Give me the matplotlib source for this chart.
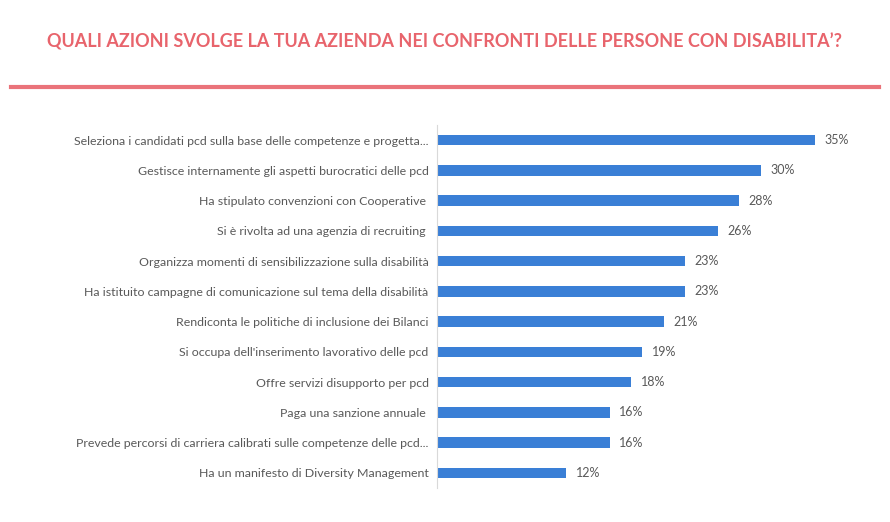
import matplotlib
matplotlib.use("Agg")
import matplotlib.pyplot as plt
from matplotlib.lines import Line2D

# Data (top to bottom)
labels = [
    "Seleziona i candidati pcd sulla base delle competenze e progetta...",
    "Gestisce internamente gli aspetti burocratici delle pcd",
    "Ha stipulato convenzioni con Cooperative ",
    "Si è rivolta ad una agenzia di recruiting ",
    "Organizza momenti di sensibilizzazione sulla disabilità",
    "Ha istituito campagne di comunicazione sul tema della disabilità",
    "Rendiconta le politiche di inclusione dei Bilanci",
    "Si occupa dell'inserimento lavorativo delle pcd",
    "Offre servizi disupporto per pcd",
    "Paga una sanzione annuale ",
    "Prevede percorsi di carriera calibrati sulle competenze delle pcd...",
    "Ha un manifesto di Diversity Management",
]
values = [35, 30, 28, 26, 23, 23, 21, 19, 18, 16, 16, 12]

title = "QUALI AZIONI SVOLGE LA TUA AZIENDA NEI CONFRONTI DELLE PERSONE CON DISABILITA\u2019?"

bar_color = "#3a7fd6"
text_gray = "#595959"
red = "#e8646c"

fig = plt.figure(figsize=(8.9, 5.22), dpi=100)
ax = fig.add_axes([0.491, 0.065, 0.485, 0.6955])

pos = list(range(len(labels)))
ax.barh(pos, values, height=0.35, color=bar_color)
ax.set_ylim(len(labels) - 0.5, -0.5)
ax.set_xlim(0, 40)

ax.set_yticks(pos)
ax.set_yticklabels(labels, family="Lato", fontsize=8.9, color=text_gray)
ax.tick_params(axis="y", length=0, pad=6)
ax.set_xticks([])

for p, v in zip(pos, values):
    ax.text(v + 0.9, p, f"{v}%", va="center", ha="left",
            family="Lato", fontsize=9, color=text_gray)

for side in ["top", "right", "bottom"]:
    ax.spines[side].set_visible(False)
ax.spines["left"].set_color("#d9d9d9")
ax.spines["left"].set_linewidth(0.8)

fig.text(0.499, 0.919, title, ha="center", va="center",
         family="Lato", fontweight="bold", fontsize=13, color=red)
fig.add_artist(Line2D([0.012, 0.988], [0.833, 0.833], color=red,
                      linewidth=3, alpha=0.9))

fig.savefig("out.png", dpi=100)
